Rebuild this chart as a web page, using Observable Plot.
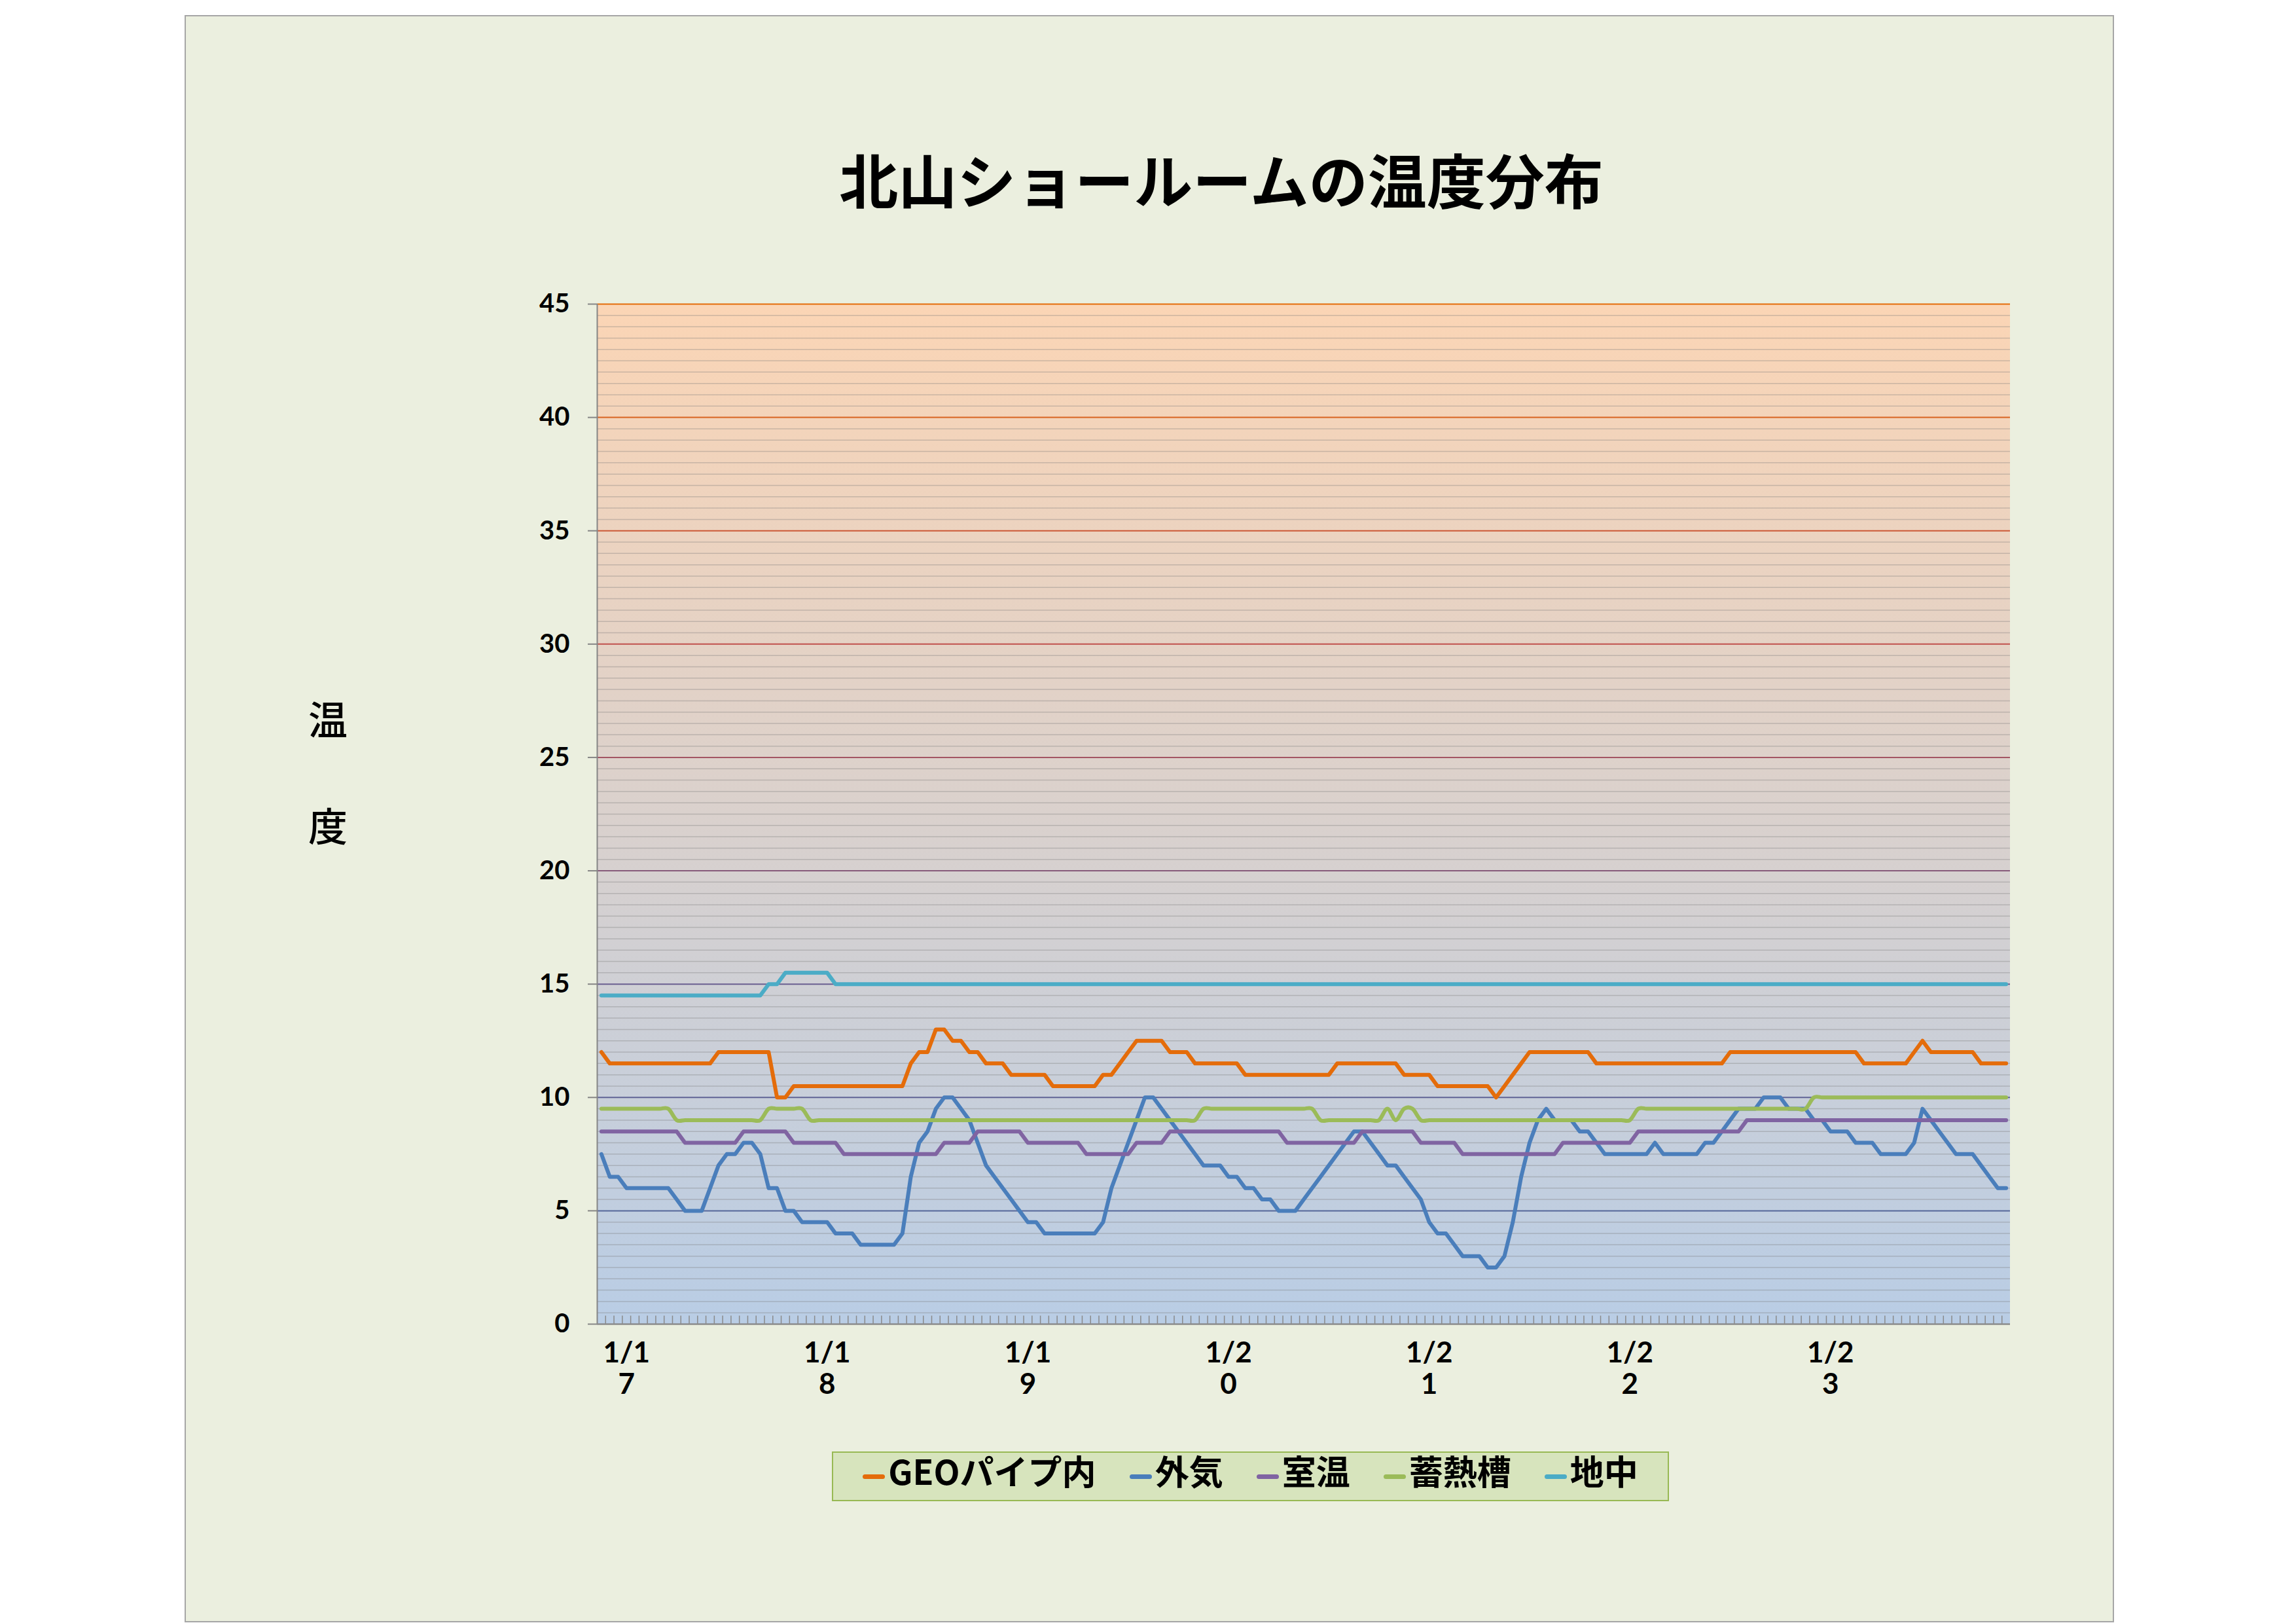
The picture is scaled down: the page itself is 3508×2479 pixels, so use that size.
<!DOCTYPE html>
<html>
<head>
<meta charset="utf-8">
<script src="https://cdn.jsdelivr.net/npm/d3@7"></script>
<script src="https://cdn.jsdelivr.net/npm/@observablehq/plot@0.6"></script>
<style>
html, body { margin: 0; padding: 0; background: #ffffff; }
#page { position: relative; width: 3508px; height: 2479px; overflow: hidden; background: #ffffff; font-family: "Noto Sans CJK JP", sans-serif; }
#panel { position: absolute; left: 282px; top: 23px; width: 2948px; height: 2455px; box-sizing: border-box; background: #ebefdf; border: 2px solid #a6a6a6; }
#plotbg { position: absolute; left: 912px; top: 464px; width: 2159px; height: 1558px; background: linear-gradient(to bottom, #fbd5b5 0%, #b9cde5 100%); }
#chart { position: absolute; left: 792px; top: 444px; }
#title { position: absolute; left: 1866px; top: 272px; transform: translate(-50%, -50%); font-size: 90px; font-weight: 700; line-height: 1; white-space: nowrap; color: #000; }
.ylab { position: absolute; left: 501px; transform: translate(-50%, -50%); font-size: 60px; font-weight: 500; line-height: 1; color: #000; }
#legend { position: absolute; left: 1271px; top: 2217px; width: 1279px; height: 76px; box-sizing: border-box; background: #d7e4bd; border: 2px solid #98b954; display: flex; align-items: center; justify-content: center; gap: 51px; }
.item { display: flex; align-items: center; gap: 5px; }
.sw { width: 34px; height: 7px; border-radius: 4px; }
.lt { font-size: 52px; font-weight: 700; line-height: 1; position: relative; top: -9px; color: #000; white-space: nowrap; }
</style>
</head>
<body>
<div id="page">
  <div id="panel"></div>
  <div id="title">北山ショールームの温度分布</div>
  <div id="plotbg"></div>
  <div id="chart"></div>
  <div class="ylab" style="top:1096px">温</div>
  <div class="ylab" style="top:1259px">度</div>
  <div id="legend"></div>
</div>
<script>
// ---- data (hourly readings, first reading 1/16 21:00) ----
const startDay = 16;
const startHour = 21;
const dayLabels = ["1/17", "1/18", "1/19", "1/20", "1/21", "1/22", "1/23"];
const seriesNames = ["GEOパイプ内", "外気", "室温", "蓄熱槽", "地中"];
const seriesColors = ["#e46c0a", "#4a7ebb", "#8064a2", "#9bbb59", "#4bacc6"];

const geo = [
  12, 11.5, 11.5, 11.5, 11.5, 11.5, 11.5, 11.5, 11.5, 11.5,
  11.5, 11.5, 11.5, 11.5, 12, 12, 12, 12, 12, 12,
  12, 10, 10, 10.5, 10.5, 10.5, 10.5, 10.5, 10.5, 10.5,
  10.5, 10.5, 10.5, 10.5, 10.5, 10.5, 10.5, 11.5, 12, 12,
  13, 13, 12.5, 12.5, 12, 12, 11.5, 11.5, 11.5, 11,
  11, 11, 11, 11, 10.5, 10.5, 10.5, 10.5, 10.5, 10.5,
  11, 11, 11.5, 12, 12.5, 12.5, 12.5, 12.5, 12, 12,
  12, 11.5, 11.5, 11.5, 11.5, 11.5, 11.5, 11, 11, 11,
  11, 11, 11, 11, 11, 11, 11, 11, 11.5, 11.5,
  11.5, 11.5, 11.5, 11.5, 11.5, 11.5, 11, 11, 11, 11,
  10.5, 10.5, 10.5, 10.5, 10.5, 10.5, 10.5, 10, 10.5, 11,
  11.5, 12, 12, 12, 12, 12, 12, 12, 12, 11.5,
  11.5, 11.5, 11.5, 11.5, 11.5, 11.5, 11.5, 11.5, 11.5, 11.5,
  11.5, 11.5, 11.5, 11.5, 11.5, 12, 12, 12, 12, 12,
  12, 12, 12, 12, 12, 12, 12, 12, 12, 12,
  12, 11.5, 11.5, 11.5, 11.5, 11.5, 11.5, 12, 12.5, 12,
  12, 12, 12, 12, 12, 11.5, 11.5, 11.5, 11.5
];
const outside = [
  7.5, 6.5, 6.5, 6, 6, 6, 6, 6, 6, 5.5,
  5, 5, 5, 6, 7, 7.5, 7.5, 8, 8, 7.5,
  6, 6, 5, 5, 4.5, 4.5, 4.5, 4.5, 4, 4,
  4, 3.5, 3.5, 3.5, 3.5, 3.5, 4, 6.5, 8, 8.5,
  9.5, 10, 10, 9.5, 9, 8, 7, 6.5, 6, 5.5,
  5, 4.5, 4.5, 4, 4, 4, 4, 4, 4, 4,
  4.5, 6, 7, 8, 9, 10, 10, 9.5, 9, 8.5,
  8, 7.5, 7, 7, 7, 6.5, 6.5, 6, 6, 5.5,
  5.5, 5, 5, 5, 5.5, 6, 6.5, 7, 7.5, 8,
  8.5, 8.5, 8, 7.5, 7, 7, 6.5, 6, 5.5, 4.5,
  4, 4, 3.5, 3, 3, 3, 2.5, 2.5, 3, 4.5,
  6.5, 8, 9, 9.5, 9, 9, 9, 8.5, 8.5, 8,
  7.5, 7.5, 7.5, 7.5, 7.5, 7.5, 8, 7.5, 7.5, 7.5,
  7.5, 7.5, 8, 8, 8.5, 9, 9.5, 9.5, 9.5, 10,
  10, 10, 9.5, 9.5, 9.5, 9, 9, 8.5, 8.5, 8.5,
  8, 8, 8, 7.5, 7.5, 7.5, 7.5, 8, 9.5, 9,
  8.5, 8, 7.5, 7.5, 7.5, 7, 6.5, 6, 6
];
const room = [
  8.5, 8.5, 8.5, 8.5, 8.5, 8.5, 8.5, 8.5, 8.5, 8.5,
  8, 8, 8, 8, 8, 8, 8, 8.5, 8.5, 8.5,
  8.5, 8.5, 8.5, 8, 8, 8, 8, 8, 8, 7.5,
  7.5, 7.5, 7.5, 7.5, 7.5, 7.5, 7.5, 7.5, 7.5, 7.5,
  7.5, 8, 8, 8, 8, 8.5, 8.5, 8.5, 8.5, 8.5,
  8.5, 8, 8, 8, 8, 8, 8, 8, 7.5, 7.5,
  7.5, 7.5, 7.5, 7.5, 8, 8, 8, 8, 8.5, 8.5,
  8.5, 8.5, 8.5, 8.5, 8.5, 8.5, 8.5, 8.5, 8.5, 8.5,
  8.5, 8.5, 8, 8, 8, 8, 8, 8, 8, 8,
  8, 8.5, 8.5, 8.5, 8.5, 8.5, 8.5, 8.5, 8, 8,
  8, 8, 8, 7.5, 7.5, 7.5, 7.5, 7.5, 7.5, 7.5,
  7.5, 7.5, 7.5, 7.5, 7.5, 8, 8, 8, 8, 8,
  8, 8, 8, 8, 8.5, 8.5, 8.5, 8.5, 8.5, 8.5,
  8.5, 8.5, 8.5, 8.5, 8.5, 8.5, 8.5, 9, 9, 9,
  9, 9, 9, 9, 9, 9, 9, 9, 9, 9,
  9, 9, 9, 9, 9, 9, 9, 9, 9, 9,
  9, 9, 9, 9, 9, 9, 9, 9, 9
];
const storage = [
  9.5, 9.5, 9.5, 9.5, 9.5, 9.5, 9.5, 9.5, 9.5, 9,
  9, 9, 9, 9, 9, 9, 9, 9, 9, 9,
  9.5, 9.5, 9.5, 9.5, 9.5, 9, 9, 9, 9, 9,
  9, 9, 9, 9, 9, 9, 9, 9, 9, 9,
  9, 9, 9, 9, 9, 9, 9, 9, 9, 9,
  9, 9, 9, 9, 9, 9, 9, 9, 9, 9,
  9, 9, 9, 9, 9, 9, 9, 9, 9, 9,
  9, 9, 9.5, 9.5, 9.5, 9.5, 9.5, 9.5, 9.5, 9.5,
  9.5, 9.5, 9.5, 9.5, 9.5, 9.5, 9, 9, 9, 9,
  9, 9, 9, 9, 9.5, 9, 9.5, 9.5, 9, 9,
  9, 9, 9, 9, 9, 9, 9, 9, 9, 9,
  9, 9, 9, 9, 9, 9, 9, 9, 9, 9,
  9, 9, 9, 9, 9.5, 9.5, 9.5, 9.5, 9.5, 9.5,
  9.5, 9.5, 9.5, 9.5, 9.5, 9.5, 9.5, 9.5, 9.5, 9.5,
  9.5, 9.5, 9.5, 9.5, 9.5, 10, 10, 10, 10, 10,
  10, 10, 10, 10, 10, 10, 10, 10, 10, 10,
  10, 10, 10, 10, 10, 10, 10, 10, 10
];
const ground = [
  14.5, 14.5, 14.5, 14.5, 14.5, 14.5, 14.5, 14.5, 14.5, 14.5,
  14.5, 14.5, 14.5, 14.5, 14.5, 14.5, 14.5, 14.5, 14.5, 14.5,
  15, 15, 15.5, 15.5, 15.5, 15.5, 15.5, 15.5, 15, 15,
  15, 15, 15, 15, 15, 15, 15, 15, 15, 15,
  15, 15, 15, 15, 15, 15, 15, 15, 15, 15,
  15, 15, 15, 15, 15, 15, 15, 15, 15, 15,
  15, 15, 15, 15, 15, 15, 15, 15, 15, 15,
  15, 15, 15, 15, 15, 15, 15, 15, 15, 15,
  15, 15, 15, 15, 15, 15, 15, 15, 15, 15,
  15, 15, 15, 15, 15, 15, 15, 15, 15, 15,
  15, 15, 15, 15, 15, 15, 15, 15, 15, 15,
  15, 15, 15, 15, 15, 15, 15, 15, 15, 15,
  15, 15, 15, 15, 15, 15, 15, 15, 15, 15,
  15, 15, 15, 15, 15, 15, 15, 15, 15, 15,
  15, 15, 15, 15, 15, 15, 15, 15, 15, 15,
  15, 15, 15, 15, 15, 15, 15, 15, 15, 15,
  15, 15, 15, 15, 15, 15, 15, 15, 15
];
const yMajorTicks = [0, 5, 10, 15, 20, 25, 30, 35, 40, 45];

// ---- chart ----
const seriesValues = [geo, outside, room, storage, ground];
const N = geo.length;
const labelIdx = d3.range(N).filter(i => (startHour + i) % 24 === 0);
const labelOf = i => {
  const day = startDay + Math.floor((startHour + i) / 24);
  const s = dayLabels.find(l => l === "1/" + day) || ("1/" + day);
  return s.slice(0, 3) + "\n" + s.slice(3);   // Excel wrapped the narrow label
};
const minorTicks = d3.range(0.5, 45, 0.5).filter(v => v % 5 !== 0);
const boundaries = d3.range(0.5, N - 1, 1);
const gridColor = d3.scaleLinear().domain([0, 15, 30, 45])
  .range(["#4a6b9e", "#6a5f90", "#c0504d", "#e46c0a"]).interpolate(d3.interpolateRgb);

const lineMarks = seriesValues.map((vals, k) =>
  Plot.line(vals, {
    x: (d, i) => i, y: d => d,
    stroke: seriesColors[k], strokeWidth: 6,
    strokeLinecap: "round", strokeLinejoin: "round",
    curve: k === 3 ? "cardinal" : "linear"
  })
);

const chart = Plot.plot({
  width: 2299, height: 1708,
  marginLeft: 120, marginRight: 20, marginTop: 20, marginBottom: 130,
  style: { background: "transparent", overflow: "visible", fontFamily: "Lato, 'Open Sans', sans-serif" },
  x: { domain: [-0.5, N - 0.5], axis: null },
  y: { domain: [0, 45], axis: null },
  color: { type: "identity" },
  marks: [
    Plot.ruleY(minorTicks, { stroke: "#777777", strokeOpacity: 0.35, strokeWidth: 1.5 }),
    Plot.ruleY(yMajorTicks.filter(v => v > 0), { y: d => d, stroke: d => gridColor(d), strokeWidth: 2 }),
    Plot.ruleX(boundaries, { x: d => d, y1: 0, y2: 0.36, stroke: "#8a8a8a", strokeWidth: 1.5 }),
    Plot.ruleX([-0.5], { y1: 0, y2: 45, stroke: "#868686", strokeWidth: 2 }),
    Plot.ruleY([0], { stroke: "#8c8c8c", strokeWidth: 2.5 }),
    Plot.axisY({ ticks: yMajorTicks, tickSize: 14, tickPadding: 28, fontSize: 40, fontWeight: "bold",
      stroke: "#868686", strokeWidth: 2, fill: "#000", tickFormat: d => String(d) }),
    Plot.axisX({ ticks: labelIdx, tickSize: 0, tickPadding: 24, fontSize: 44, fontWeight: "bold",
      fill: "#000", lineHeight: 1.1, tickFormat: labelOf }),
    ...lineMarks
  ]
});
document.getElementById("chart").appendChild(chart);

// ---- legend ----
const legend = document.getElementById("legend");
seriesNames.forEach((name, k) => {
  const item = document.createElement("div");
  item.className = "item";
  const sw = document.createElement("div");
  sw.className = "sw";
  sw.style.background = seriesColors[k];
  const t = document.createElement("div");
  t.className = "lt";
  t.textContent = name;
  item.appendChild(sw);
  item.appendChild(t);
  legend.appendChild(item);
});
</script>
</body>
</html>
